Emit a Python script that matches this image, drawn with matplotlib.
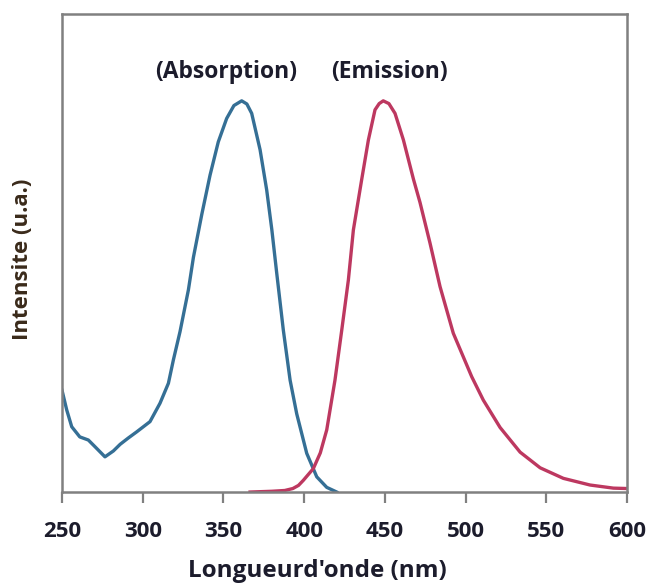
import matplotlib.pyplot as plt

# Absorption spectrum (nm, normalised intensity)
abs_nm = [250, 252.9, 256, 261, 266.3, 270.4, 276.6, 281.8, 286, 291, 296.3, 304.5,
          310.7, 315.9, 319, 323.1, 328.3, 331.4, 336.6, 341.7, 346.8, 352, 356.5,
          361.3, 364.5, 367.5, 372.7, 376.8, 380, 383, 387.1, 391.3, 395.4, 401.6,
          407.8, 414, 420.2]
abs_int = [0.26, 0.21, 0.167, 0.141, 0.133, 0.116, 0.09, 0.105, 0.122, 0.138, 0.154,
           0.18, 0.227, 0.278, 0.338, 0.41, 0.517, 0.60, 0.71, 0.81, 0.895, 0.955, 0.988,
           1.0, 0.992, 0.968, 0.875, 0.772, 0.67, 0.56, 0.414, 0.286, 0.20, 0.099,
           0.039, 0.012, 0.0]

# Emission spectrum
em_nm = [366.5, 380, 388, 393, 396.5, 399.5, 405.7, 410, 414, 419.1, 423.3, 427.4,
         430.5, 435.7, 439.8, 443.9, 446.5, 449, 452.5, 456.3, 461.5, 467.7, 471.8, 478,
         484.2, 492.4, 503.8, 511, 521.4, 533.8, 546.2, 560.6, 577.1, 591.6, 600]
em_int = [0.0, 0.002, 0.004, 0.009, 0.017, 0.03, 0.06, 0.1, 0.159, 0.286, 0.414, 0.542,
          0.67, 0.80, 0.90, 0.977, 0.993, 1.0, 0.993, 0.968, 0.90, 0.80, 0.74, 0.636,
          0.525, 0.406, 0.295, 0.235, 0.165, 0.102, 0.062, 0.035, 0.018, 0.01, 0.009]

xticks = [250, 300, 350, 400, 450, 500, 550, 600]

plt.rcParams['font.family'] = ['Open Sans', 'DejaVu Sans']
ink = '#1c1c2c'

fig = plt.figure(figsize=(6.55, 5.83), dpi=100)
ax = fig.add_axes([0.0947, 0.156, 0.8625, 0.82])

ax.plot(abs_nm, abs_int, color='#356f95', lw=2.4, solid_joinstyle='round')
ax.plot(em_nm, em_int, color='#bd3860', lw=2.4, solid_joinstyle='round')

ax.set_xlim(250, 600)
ax.set_ylim(0, 1.222)
ax.set_xticks(xticks)
ax.set_yticks([])
ax.tick_params(axis='x', direction='out', length=8, width=1.6, color='#808080',
               labelsize=16, labelcolor=ink, pad=13)
for lbl in ax.get_xticklabels():
    lbl.set_fontweight('bold')
for sp in ax.spines.values():
    sp.set_color('#808080')
    sp.set_linewidth(1.8)

ax.text(351.6, 1.074, '(Absorption)', ha='center', va='center', fontsize=16.5,
        fontweight='bold', color=ink)
ax.text(453, 1.074, '(Emission)', ha='center', va='center', fontsize=16.5,
        fontweight='bold', color=ink)

fig.text(0.484, 0.0103, "Longueurd'onde (nm)", ha='center', va='baseline',
         fontsize=17.5, fontweight='bold', color=ink)
fig.text(0.034, 0.556, 'Intensite (u.a.)', ha='center', va='center', rotation=90,
         fontsize=16, fontweight='bold', color='#3a2a1a')

fig.savefig('out.png', dpi=100)
